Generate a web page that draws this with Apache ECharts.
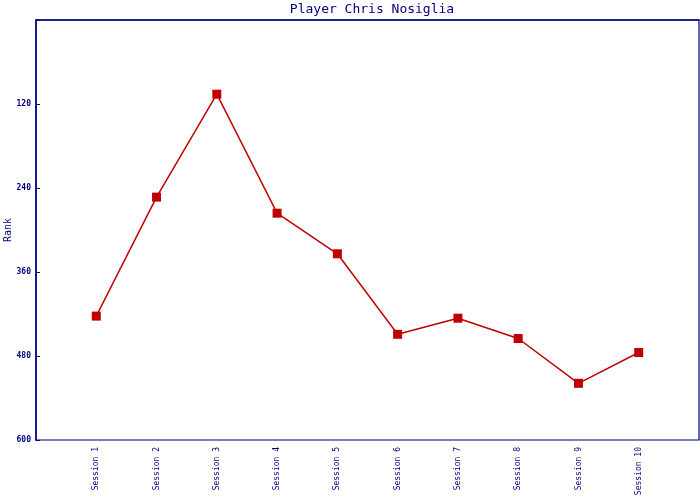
<!DOCTYPE html>
<html><head><meta charset="utf-8">
<script src="https://cdn.jsdelivr.net/npm/echarts@6/dist/echarts.min.js"></script>
<style>html,body{margin:0;padding:0;background:#fff}#c{width:700px;height:500px}</style>
</head><body><div id="c"></div>
<script>
const categories = ['Session 1','Session 2','Session 3','Session 4','Session 5','Session 6','Session 7','Session 8','Session 9','Session 10'];
const ranks = [423, 253, 106, 276, 334, 449, 426, 455, 519, 475];
const yTicks = [120, 240, 360, 480, 600];

const navy = '#000080';
const font = 'DejaVu Sans Mono';
const chart = echarts.init(document.getElementById('c'));
chart.setOption({
  animation: false,
  title: { text: 'Player Chris Nosiglia', left: 367, textAlign: 'center', top: -2,
    textStyle: { color: navy, fontFamily: font, fontSize: 13, fontWeight: 'normal' } },
  grid: { left: 36, right: 1, top: 20, bottom: 60, show: true, borderColor: navy, borderWidth: 1.2,
    containLabel: false, outerBoundsMode: 'none' },
  xAxis: {
    type: 'category', boundaryGap: false,
    data: [''].concat(categories, ['']),
    axisLine: { lineStyle: { color: navy, width: 1.5 } },
    axisTick: { show: false },
    axisLabel: { rotate: 90, color: navy, fontFamily: font, fontSize: 8, margin: 7, interval: 0 },
    splitLine: { show: false }
  },
  yAxis: {
    type: 'value', inverse: true, min: 0, max: 600, interval: 120,
    name: 'Rank', nameLocation: 'middle', nameGap: 23, nameRotate: 90, nameMoveOverlap: false,
    nameTextStyle: { color: navy, fontFamily: font, fontSize: 10 },
    axisLine: { show: true, lineStyle: { color: navy, width: 1.5 } },
    axisTick: { show: true, inside: true, length: 4, lineStyle: { color: navy } },
    axisLabel: { color: navy, fontFamily: font, fontSize: 8, margin: 5, fontWeight: 'bold',
      formatter: v => yTicks.indexOf(v) >= 0 ? String(v) : '' },
    splitLine: { show: false }
  },
  series: [{
    type: 'line',
    data: [null].concat(ranks, [null]),
    symbol: 'rect', symbolSize: 9,
    lineStyle: { color: '#c00000', width: 1.5 },
    itemStyle: { color: '#c00000' }
  }]
});
</script></body></html>
